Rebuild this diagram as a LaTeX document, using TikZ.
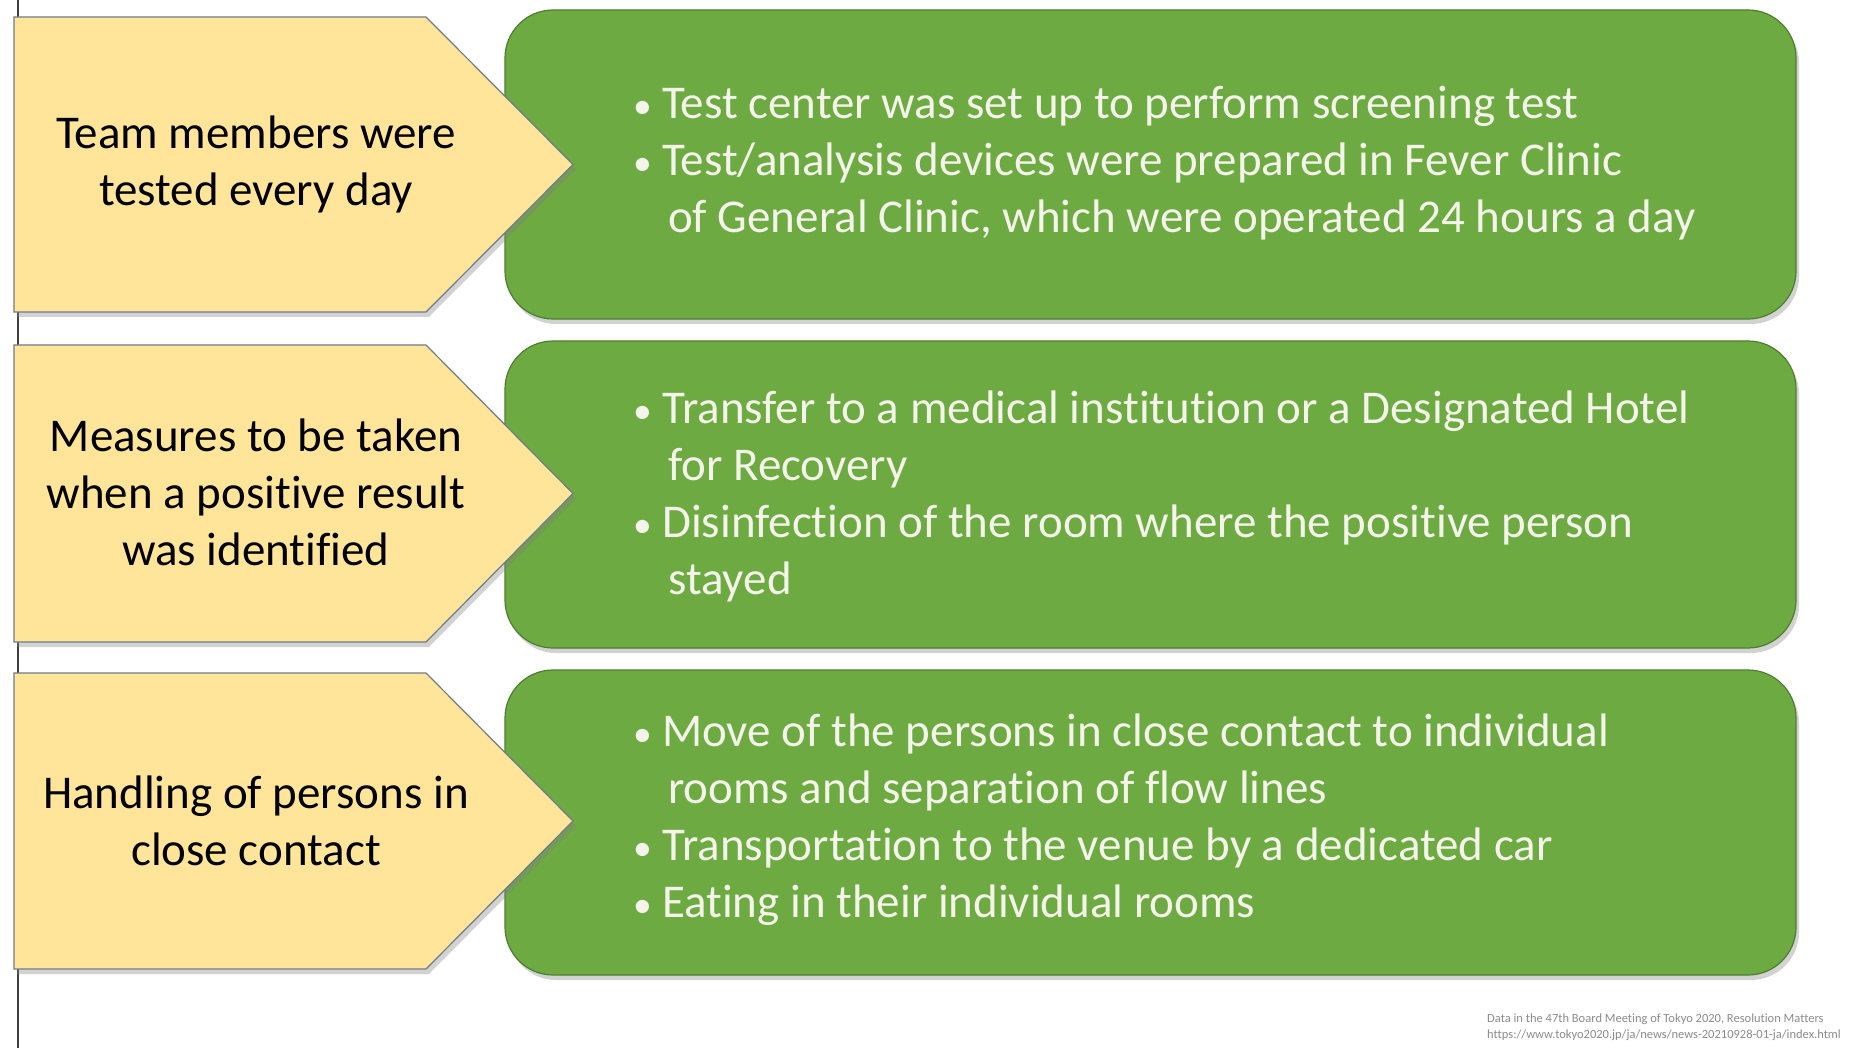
\documentclass[tikz,border=0pt]{standalone}
\usepackage{fontspec}
\setmainfont{Carlito}[Ligatures={NoCommon}]
\usetikzlibrary{shadows}
\definecolor{yfill}{HTML}{FFE599}
\definecolor{ydraw}{HTML}{6F7A8A}
\definecolor{gfill}{HTML}{6DAB42}
\definecolor{gdraw}{HTML}{4F7D30}
\definecolor{gtext}{HTML}{F4F4EA}
\definecolor{notegray}{HTML}{8C8C8C}
\newcommand\bl{\makebox[23pt][l]{\hspace*{-6pt}\scalebox{0.8}{•}}}
\newcommand\ind{\hspace*{29pt}}
\tikzset{
  ybox/.style={fill=yfill, draw=ydraw, line width=1.2pt,
    drop shadow={opacity=0.35, shadow xshift=3pt, shadow yshift=-5pt}},
  gbox/.style={fill=gfill, draw=gdraw, line width=1.2pt, rounded corners=48pt,
    drop shadow={opacity=0.35, shadow xshift=3pt, shadow yshift=-5pt}},
  ytext/.style={align=center, font=\fontsize{47}{57}\selectfont, text=black, inner sep=0pt},
  gtxt/.style={align=left, font=\fontsize{47}{57}\selectfont, text=gtext, inner sep=0pt, anchor=west},
  note/.style={align=left, font=\fontsize{12.5}{16}\selectfont, text=notegray, inner sep=0pt, anchor=north west}
}
\begin{document}
\begin{tikzpicture}[x=1pt,y=-1pt]
\useasboundingbox (0,0) rectangle (1865,1048);
\fill[white] (0,0) rectangle (1865,1048);
\draw[line width=1.4pt, black!75] (18,0) -- (18,1048);

% green boxes (behind)
\path[gbox] (505,10) rectangle (1796,319);
\path[gbox] (505,341) rectangle (1796,648);
\path[gbox] (505,670) rectangle (1796,975);

% yellow arrows (in front)
\path[ybox] (14,17) -- (426,17) -- (573,164.5) -- (426,312) -- (14,312) -- cycle;
\path[ybox] (14,345) -- (426,345) -- (573,493.5) -- (426,642) -- (14,642) -- cycle;
\path[ybox] (14,673) -- (426,673) -- (573,821) -- (426,969) -- (14,969) -- cycle;

% row 1
\node[ytext] (y1) at (256,164) {Team members were\\tested every day};
\node[gtxt] (g1) at (639,163) {\bl Test center was set up to perform screening test\\
\bl Test/analysis devices were prepared in Fever Clinic\\
\ind of General Clinic, which were operated 24 hours a day};

% row 2
\node[ytext] (y2) at (256,492) {Measures to be taken\\when a positive result\\was identified};
\node[gtxt] (g2) at (639,496) {\bl Transfer to a medical institution or a Designated Hotel\\
\ind for Recovery\\
\bl Disinfection of the room where the positive person\\
\ind stayed};

% row 3
\node[ytext] (y3) at (256,821) {Handling of persons in\\close contact};
\node[gtxt] (g3) at (639,820) {\bl Move of the persons in close contact to individual\\
\ind rooms and separation of flow lines\\
\bl Transportation to the venue by a dedicated car\\
\bl Eating in their individual rooms};

\node[note] (n1) at (1487,1014) {Data in the 47th Board Meeting of Tokyo 2020, Resolution Matters\\https://www.tokyo2020.jp/ja/news/news-20210928-01-ja/index.html};
\end{tikzpicture}
\end{document}
